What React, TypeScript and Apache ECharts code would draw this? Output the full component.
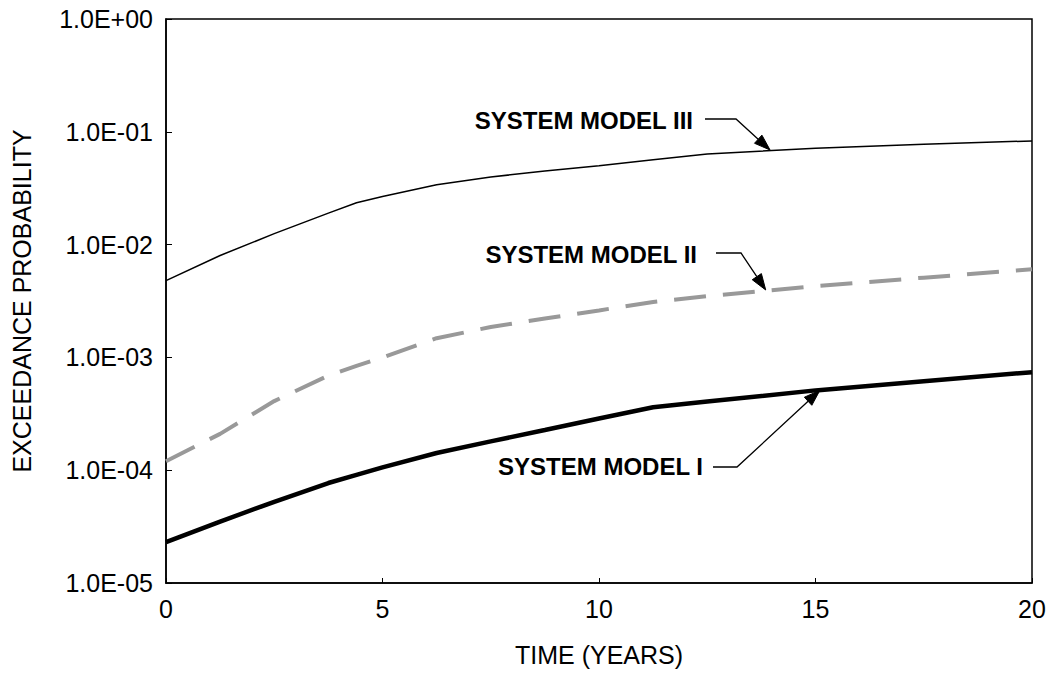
import React, { useEffect, useRef } from "react";
import * as echarts from "echarts";

const years = [0, 1.25, 2.5, 3.75, 4.4, 5, 6.25, 7.5, 8.75, 10, 11.25, 12.5, 15, 17.5, 20];
const modelI = [2.3e-5, 3.5e-5, 5.25e-5, 7.7e-5, 9.1e-5, 1.06e-4, 1.42e-4, 1.8e-4, 2.27e-4, 2.87e-4, 3.62e-4, 4.06e-4, 5.1e-4, 6.15e-4, 7.4e-4];
const modelII = [1.2e-4, 2.1e-4, 4.1e-4, 6.9e-4, 8.4e-4, 1.0e-3, 1.48e-3, 1.86e-3, 2.21e-3, 2.61e-3, 3.1e-3, 3.49e-3, 4.29e-3, 5.09e-3, 6.04e-3];
const modelIII = [4.8e-3, 8.0e-3, 1.25e-2, 1.9e-2, 2.35e-2, 2.67e-2, 3.4e-2, 3.97e-2, 4.5e-2, 5.0e-2, 5.65e-2, 6.35e-2, 7.16e-2, 7.74e-2, 8.3e-2];

const seriesNames = ["SYSTEM MODEL I", "SYSTEM MODEL II", "SYSTEM MODEL III"];
// arrow tips in data coordinates (year, probability)
const arrowTips: [number, number][] = [
  [15.1, 5.1e-4],
  [13.85, 3.96e-3],
  [13.95, 6.9e-2],
];

const FONT = "'Liberation Sans', Arial, Helvetica, sans-serif";

function fmtExp(v: number): string {
  const e = Math.round(Math.log10(v));
  const sign = e < 0 ? "-" : "+";
  const a = Math.abs(e);
  return "1.0E" + sign + (a < 10 ? "0" + a : String(a));
}

export default function App() {
  const ref = useRef<HTMLDivElement>(null);
  useEffect(() => {
    if (!ref.current) return;
    const chart = echarts.init(ref.current, null, { renderer: "svg" });
    const pairs = (ys: number[]) => years.map((x, i) => [x, ys[i]]);
    chart.setOption({
      animation: false,
      backgroundColor: "#ffffff",
      textStyle: { fontFamily: FONT },
      grid: {
        left: 166,
        right: 24,
        top: 19,
        bottom: 92,
        show: true,
        borderColor: "#000",
        borderWidth: 1.5,
        backgroundColor: "transparent",
      },
      xAxis: {
        type: "value",
        min: 0,
        max: 20,
        interval: 5,
        name: "TIME (YEARS)",
        nameLocation: "middle",
        nameGap: 59,
        nameTextStyle: { fontSize: 25, color: "#000", fontFamily: FONT },
        axisLine: { lineStyle: { color: "#000", width: 1.5 } },
        axisTick: { inside: true, length: 5, lineStyle: { color: "#000" } },
        axisLabel: { fontSize: 25, color: "#000", margin: 13, fontFamily: FONT },
        splitLine: { show: false },
      },
      yAxis: {
        type: "log",
        logBase: 10,
        min: 1e-5,
        max: 1,
        name: "EXCEEDANCE PROBABILITY",
        nameLocation: "middle",
        nameGap: 132,
        nameTextStyle: { fontSize: 25, color: "#000", fontFamily: FONT },
        axisLine: { lineStyle: { color: "#000", width: 1.5 } },
        axisTick: { inside: true, length: 6, lineStyle: { color: "#000" } },
        axisLabel: { fontSize: 25, color: "#000", margin: 13, fontFamily: FONT, formatter: (v: number) => fmtExp(v) },
        splitLine: { show: false },
      },
      series: [
        {
          name: seriesNames[0],
          type: "line",
          data: pairs(modelI),
          showSymbol: false,
          lineStyle: { color: "#000", width: 4.5 },
          z: 3,
        },
        {
          name: seriesNames[1],
          type: "line",
          data: pairs(modelII),
          showSymbol: false,
          lineStyle: { color: "#999999", width: 4, type: [32, 17] },
          z: 2,
        },
        {
          name: seriesNames[2],
          type: "line",
          data: pairs(modelIII),
          showSymbol: false,
          lineStyle: { color: "#000", width: 1.5 },
          z: 3,
        },
      ],
    });

    // annotation layout (pixels): text right edge, leader start, leader elbow
    const layout = [
      { textX: 703, textY: 466, lineStart: [713, 467], elbow: [737, 467] },
      { textX: 697, textY: 254, lineStart: [716, 253], elbow: [741, 253] },
      { textX: 693, textY: 120, lineStart: [705, 119], elbow: [736, 119] },
    ];
    const graphics: any[] = [];
    layout.forEach((l, i) => {
      const tip = chart.convertToPixel({ gridIndex: 0 }, arrowTips[i]) as number[];
      const [ex, ey] = l.elbow;
      const dx = tip[0] - ex;
      const dy = tip[1] - ey;
      const len = Math.sqrt(dx * dx + dy * dy);
      const ux = dx / len;
      const uy = dy / len;
      const hl = 16;
      const hw = 5.5;
      const bx = tip[0] - ux * hl;
      const by = tip[1] - uy * hl;
      graphics.push({
        type: "text",
        x: l.textX,
        y: l.textY,
        style: {
          text: seriesNames[i],
          fontSize: 24,
          fontWeight: "bold",
          fontFamily: FONT,
          fill: "#000",
          align: "right",
          verticalAlign: "middle",
        },
        z: 10,
      });
      graphics.push({
        type: "polyline",
        shape: { points: [l.lineStart, l.elbow, [bx, by]] },
        style: { stroke: "#000", lineWidth: 1.3, fill: null },
        z: 10,
      });
      graphics.push({
        type: "polygon",
        shape: {
          points: [
            [tip[0], tip[1]],
            [bx - uy * hw, by + ux * hw],
            [bx + uy * hw, by - ux * hw],
          ],
        },
        style: { fill: "#000", stroke: "#000", lineWidth: 1 },
        z: 10,
      });
    });
    chart.setOption({ graphic: graphics });

    return () => chart.dispose();
  }, []);
  return (
    <div
      ref={ref}
      style={{ position: "absolute", left: 0, top: 0, width: 1056, height: 675, background: "#fff" }}
    />
  );
}
